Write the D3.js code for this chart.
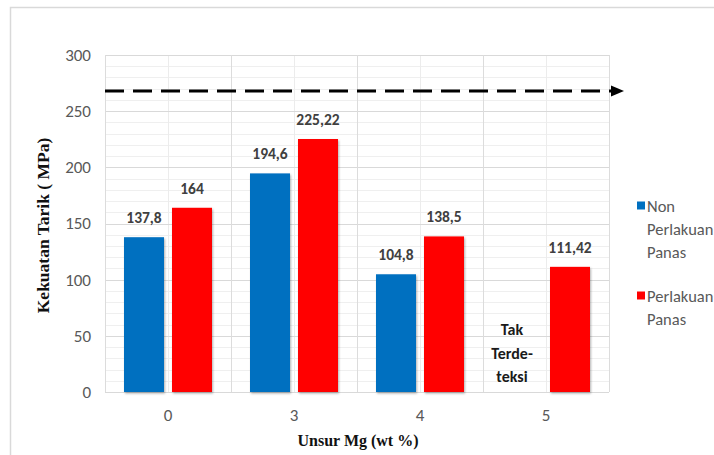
<!DOCTYPE html>
<html>
<head>
<meta charset="utf-8">
<script src="https://cdn.jsdelivr.net/npm/d3@7"></script>
<style>
  html, body { margin: 0; padding: 0; background: #fff; }
  svg { display: block; }
</style>
</head>
<body>
<svg id="chart" width="714" height="455"></svg>
<script>
// Tensile strength by Mg content, with and without heat treatment
const categories = ["0", "3", "4", "5"];
const seriesNames = ["Non Perlakuan Panas", "Perlakuan Panas"];
const nonTreated = [137.8, 194.6, 104.8, null];   // 5 wt% not detected
const treated = [164, 225.22, 138.5, 111.42];
const valueLabels = [
  ["137,8", "194,6", "104,8", null],
  ["164", "225,22", "138,5", "111,42"]
];
const yTicks = [0, 50, 100, 150, 200, 250, 300];
const referenceLevel = 268;
const notDetectedText = ["Tak", "Terde-", "teksi"];

const colors = ["#0070C0", "#FF0000"];
const uiFont = "Carlito, 'Liberation Sans Narrow', 'Open Sans', sans-serif";
const serif = "'Liberation Serif', 'DejaVu Serif', serif";

const svg = d3.select("#chart");
const plot = { left: 105, right: 609, top: 55, bottom: 392 };

// outer frame
svg.append("path")
  .attr("d", "M10.5,455 L10.5,7.5 L714,7.5")
  .attr("fill", "none").attr("stroke", "#d9d9d9").attr("stroke-width", 1.5);

const x = d3.scaleBand().domain(categories).range([plot.left, plot.right]).padding(0);
const y = d3.scaleLinear().domain([0, 300]).range([plot.bottom, plot.top]);
const barW = 40, innerGap = 8;
const sub = d3.scaleOrdinal().domain([0, 1]).range([-(barW + innerGap / 2), innerGap / 2]);

// gridlines: minor every 10, major every 50
const g = svg.append("g");
g.selectAll("line.minor").data(d3.range(0, 301, 10).filter(v => v % 50 !== 0))
  .join("line")
  .attr("x1", plot.left).attr("x2", plot.right)
  .attr("y1", d => Math.round(y(d)) + 0.5).attr("y2", d => Math.round(y(d)) + 0.5)
  .attr("stroke", "#efefef").attr("stroke-width", 1);
g.selectAll("line.vminor").data(categories)
  .join("line")
  .attr("x1", d => Math.round(x(d) + x.bandwidth() / 2) + 0.5)
  .attr("x2", d => Math.round(x(d) + x.bandwidth() / 2) + 0.5)
  .attr("y1", plot.top).attr("y2", plot.bottom)
  .attr("stroke", "#ececec");
g.selectAll("line.major").data(yTicks)
  .join("line")
  .attr("x1", plot.left).attr("x2", plot.right)
  .attr("y1", d => Math.round(y(d)) + 0.5).attr("y2", d => Math.round(y(d)) + 0.5)
  .attr("stroke", "#d9d9d9");
g.selectAll("line.vmajor").data(categories.concat(["end"]))
  .join("line")
  .attr("x1", (d, i) => Math.round(i < categories.length ? x(d) : plot.right) + 0.5)
  .attr("x2", (d, i) => Math.round(i < categories.length ? x(d) : plot.right) + 0.5)
  .attr("y1", plot.top).attr("y2", plot.bottom)
  .attr("stroke", "#dcdcdc");

// y axis labels
const yAxis = d3.axisLeft(y).tickValues(yTicks).tickSize(0).tickPadding(14);
svg.append("g").attr("transform", `translate(${plot.left},0)`).call(yAxis)
  .call(s => s.select(".domain").remove())
  .selectAll("text")
  .attr("font-family", uiFont).attr("font-size", 17).attr("fill", "#595959");

// x axis labels
const xAxis = d3.axisBottom(x).tickSize(0).tickPadding(17);
svg.append("g").attr("transform", `translate(0,${plot.bottom})`).call(xAxis)
  .call(s => s.select(".domain").remove())
  .selectAll("text")
  .attr("font-family", uiFont).attr("font-size", 17).attr("fill", "#595959");

// bars with a soft shadow
const defs = svg.append("defs");
const f = defs.append("filter").attr("id", "shadow").attr("x", "-20%").attr("y", "-10%").attr("width", "140%").attr("height", "120%");
f.append("feDropShadow").attr("dx", 1).attr("dy", 1.5).attr("stdDeviation", 1.2).attr("flood-color", "#000").attr("flood-opacity", 0.3);

const series = [nonTreated, treated];
series.forEach((vals, si) => {
  const data = categories.map((c, i) => ({ c, v: vals[i], label: valueLabels[si][i] })).filter(d => d.v != null);
  svg.append("g").selectAll("rect").data(data).join("rect")
    .attr("x", d => x(d.c) + x.bandwidth() / 2 + sub(si))
    .attr("y", d => y(d.v))
    .attr("width", barW)
    .attr("height", d => y(0) - y(d.v))
    .attr("fill", colors[si])
    .attr("filter", "url(#shadow)");
  svg.append("g").selectAll("text").data(data).join("text")
    .attr("x", d => x(d.c) + x.bandwidth() / 2 + sub(si) + barW / 2)
    .attr("y", d => y(d.v) - 14)
    .attr("text-anchor", "middle")
    .attr("font-family", uiFont).attr("font-weight", "bold").attr("font-size", 15.5)
    .attr("fill", "#404040")
    .text(d => d.label);
});

// note for the undetected sample
const nd = svg.append("text")
  .attr("text-anchor", "middle")
  .attr("font-family", uiFont).attr("font-weight", "bold").attr("font-size", 16)
  .attr("fill", "#1a1a1a");
notDetectedText.forEach((t, i) => {
  nd.append("tspan")
    .attr("x", x("5") + x.bandwidth() / 2 + sub(0) + barW / 2 - 10)
    .attr("y", 335 + i * 23.5)
    .text(t);
});

// reference level: dashed arrow
const yr = y(referenceLevel);
svg.append("line")
  .attr("x1", plot.left).attr("x2", 612)
  .attr("y1", yr).attr("y2", yr)
  .attr("stroke", "#000").attr("stroke-width", 3)
  .attr("stroke-dasharray", "19,9");
svg.append("path")
  .attr("d", `M611,${yr - 5.5} L624,${yr} L611,${yr + 5.5} Z`)
  .attr("fill", "#000");

// legend
const legend = svg.append("g").attr("font-family", uiFont).attr("font-size", 16.5).attr("fill", "#595959");
const legendItems = [
  { lines: ["Non", "Perlakuan", "Panas"], y: 206 },
  { lines: ["Perlakuan", "Panas"], y: 296 }
];
legendItems.forEach((it, i) => {
  legend.append("rect").attr("x", 637).attr("y", it.y - 4.5).attr("width", 8).attr("height", 8).attr("fill", colors[i]);
  it.lines.forEach((t, j) => {
    legend.append("text").attr("x", 647).attr("y", it.y + j * 23).attr("dy", "0.35em").text(t);
  });
});

// axis titles
svg.append("text")
  .attr("transform", `translate(43,${(plot.top + plot.bottom) / 2 + 2}) rotate(-90)`)
  .attr("text-anchor", "middle").attr("dy", "0.35em")
  .attr("font-family", serif).attr("font-weight", "bold").attr("font-size", 17.5)
  .attr("fill", "#111")
  .text("Kekuatan Tarik ( MPa)");
svg.append("text")
  .attr("x", 358).attr("y", 446)
  .attr("text-anchor", "middle")
  .attr("font-family", serif).attr("font-weight", "bold").attr("font-size", 16)
  .attr("fill", "#111")
  .text("Unsur Mg (wt %)");
</script>
</body>
</html>
